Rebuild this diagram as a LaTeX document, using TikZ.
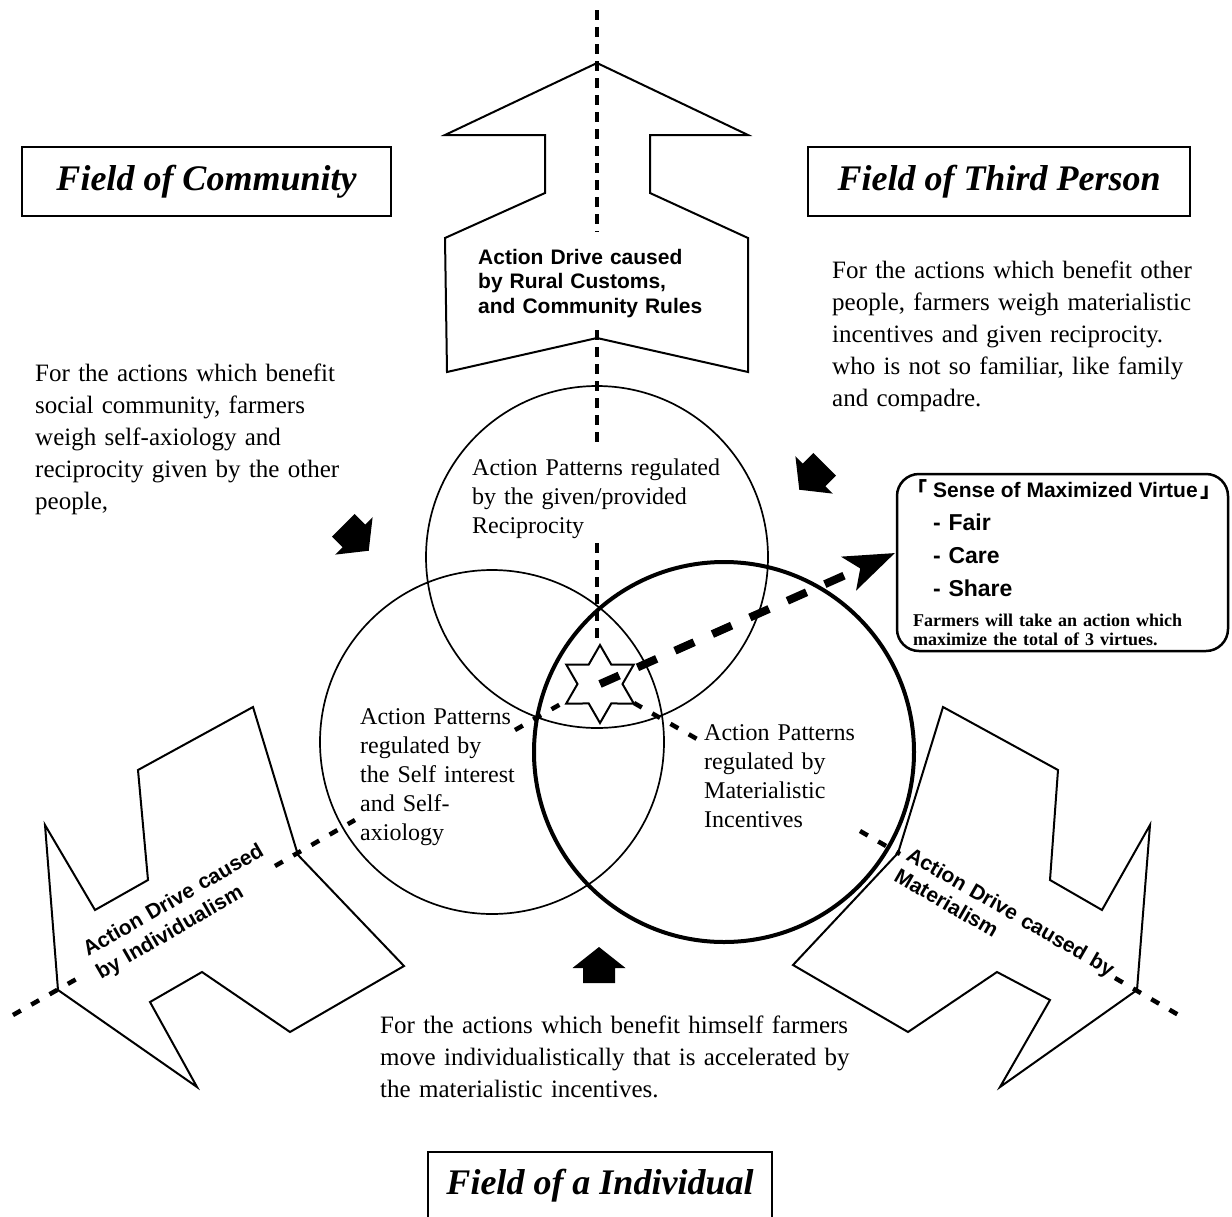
\documentclass[tikz,border=0pt]{standalone}
\usepackage{fontspec}
\setmainfont{Liberation Serif}
\setsansfont{Liberation Sans}
\newfontfamily\cjkfont{Noto Sans CJK JP}
\usetikzlibrary{arrows.meta}

\begin{document}
\begin{tikzpicture}[x=1pt,y=-1pt,
  outline/.style={draw, line width=2pt, line join=miter},
  ringthin/.style={line width=1.7pt},
  ringthick/.style={line width=4pt},
  axisdash/.style={line width=4.5pt, dash pattern=on 9pt off 12pt},
  vdash/.style={line width=4.5pt, dash pattern=on 10pt off 7pt},
  bigdash/.style={line width=8pt, dash pattern=on 21pt off 20pt},
  paratext/.style={anchor=base west, inner sep=0pt, text width=#1, align=left,
    font=\fontsize{25}{32}\selectfont},
  ringtext/.style={anchor=base west, inner sep=0pt, text width=#1, align=left,
    font=\fontsize{24}{29}\selectfont},
  sanstext/.style={anchor=base west, inner sep=0pt, text width=#1, align=left,
    font=\sffamily\bfseries\fontsize{21}{24.5}\selectfont},
  fieldbox/.style={draw, line width=1.6pt, inner sep=0pt,
    font=\bfseries\itshape\fontsize{36}{40}\selectfont},
  blockarrow/.pic={\fill (0,-18) -- (26.5,3) -- (16,3) -- (16,18) -- (-16,18)
    -- (-16,3) -- (-26.5,3) -- cycle;}
]
\useasboundingbox (0,0) rectangle (1232,1216);

% centres of the three rings and of the star
\coordinate (cTop) at (597,557);
\coordinate (cLeft) at (492,742);
\coordinate (cRight) at (724,752);
\coordinate (starC) at (600,684);

% the three overlapping rings
\draw[ringthin] (cTop) circle (171);
\draw[ringthin] (cLeft) circle (172);
\draw[ringthick] (cRight) circle (190);

% big outlined arrows
\draw[outline] (597,63) -- (748,135) -- (650,135) -- (650,193) -- (748,238)
  -- (748,372) -- (597,338) -- (447,372) -- (445,238) -- (545,193)
  -- (545,135) -- (445,135) -- cycle;
\draw[outline] (253,707) -- (138,770) -- (148,880) -- (95,910) -- (45,825)
  -- (58,990) -- (197,1087) -- (150,1002) -- (202,972) -- (290,1032)
  -- (404,966) -- (298,855) -- cycle;
\draw[outline] (943,707) -- (1058,770) -- (1050,880) -- (1102,910) -- (1150,825)
  -- (1137,990) -- (1000,1087) -- (1050,1000) -- (997,972) -- (908,1032)
  -- (793,965) -- (898,853) -- cycle;

% vertical axis (broken where text sits)
\coordinate (v0) at (597,10);   \coordinate (v1) at (597,232);
\coordinate (v2) at (597,330);  \coordinate (v3) at (597,447);
\coordinate (v4) at (597,543);  \coordinate (v5) at (597,640);
\draw[vdash] (v0) -- (v1);
\draw[vdash] (v2) -- (v3);
\draw[vdash] (v4) -- (v5);

% lower-left axis
\coordinate (l0) at (13,1015);  \coordinate (l1) at (80,977);
\coordinate (l2) at (275,866);  \coordinate (l3) at (355,820);
\coordinate (l4) at (515,730);  \coordinate (l5) at (566,701);
\draw[axisdash] (l0) -- (l1);
\draw[axisdash] (l2) -- (l3);
\draw[axisdash] (l4) -- (l5);

% lower-right axis
\coordinate (r0) at (634,703);  \coordinate (r1) at (697,739);
\coordinate (r2) at (860,831);  \coordinate (r3) at (900,854);
\coordinate (r4) at (1115,978); \coordinate (r5) at (1182,1017);
\draw[axisdash] (r0) -- (r1);
\draw[axisdash] (r2) -- (r3);
\draw[axisdash] (r4) -- (r5);

% six-pointed star at the common centre
\begin{scope}[shift={(starC)}]
  \draw[line width=2pt, fill=white, line join=miter]
    (90:39) -- (60:22.5) -- (30:39) -- (0:22.5) -- (-30:39) -- (-60:22.5)
    -- (-90:39) -- (-120:22.5) -- (-150:39) -- (180:22.5) -- (150:39)
    -- (120:22.5) -- cycle;
\end{scope}

% virtue box and the arrow pointing to it
\node[draw, rounded corners=22pt, line width=2.5pt, minimum width=331pt,
  minimum height=177pt, inner sep=0pt] (virtue) at (1062.5,562.5) {};
\coordinate (arrowTip) at (895,553);
\draw[bigdash, -{Stealth[length=50pt,width=36pt,inset=12pt]}] (starC) -- (arrowTip);

% small solid arrows
\pic[rotate=-135] at (356,538) {blockarrow};
\pic[rotate=135] at (812,477) {blockarrow};
\pic at (599,965) {blockarrow};

% field labels
\node[fieldbox, minimum width=369pt, minimum height=69pt] (fComm) at (206.5,181.5) {Field of Community};
\node[fieldbox, minimum width=382pt, minimum height=69pt] (fThird) at (999,181.5) {Field of Third Person};
\node[inner sep=0pt, font=\bfseries\itshape\fontsize{36}{40}\selectfont] (fInd) at (600,1186) {Field of a Individual};
\draw[line width=1.6pt] (428,1217) |- (772,1152) -- (772,1217);

% explanatory paragraphs
\node[paratext=420pt] (pComm) at (35,381) {For the actions which benefit\\
  social community, farmers\\ weigh self-axiology and\\
  reciprocity given by the other\\ people,};
\node[paratext=420pt] (pThird) at (832,278) {For the actions which benefit other\\
  people, farmers weigh materialistic\\ incentives and given reciprocity.\\
  who is not so familiar, like family\\ and compadre.};
\node[paratext=520pt] (pInd) at (380,1033) {For the actions which benefit himself farmers\\
  move individualistically that is accelerated by\\ the materialistic incentives.};

% ring labels
\node[ringtext=300pt] (tTop) at (472,475) {Action Patterns regulated\\
  by the given/provided\\ Reciprocity};
\node[ringtext=200pt] (tLeft) at (360,724) {Action Patterns\\ regulated by\\
  the Self interest\\ and Self-\\ axiology};
\node[ringtext=200pt] (tRight) at (704,740) {Action Patterns\\ regulated by\\
  Materialistic\\ Incentives};

% labels of the driving arrows
\node[sanstext=260pt] (dTop) at (478,264) {Action Drive caused\\ by Rural Customs,\\
  and Community Rules};
\node[sanstext=260pt, rotate=30] (dLeft) at (88,957) {Action Drive caused\\[1.5pt] by Individualism};
\node[sanstext=260pt, rotate=-30] (dRight) at (905,859) {Action Drive caused by\\ Materialism};

% contents of the virtue box
\node[anchor=base west, inner sep=0pt, font=\sffamily\bfseries\fontsize{21}{24}\selectfont]
  (vTitle) at (906,497) {{\cjkfont 「}\hspace{6pt}Sense of Maximized Virtue\hspace{3pt}{\cjkfont 」}};
\node[anchor=base west, inner sep=0pt, text width=200pt, align=left,
  font=\sffamily\bfseries\fontsize{23}{33}\selectfont] (vList) at (933,530)
  {- Fair\\ - Care\\ - Share};
\node[anchor=base west, inner sep=0pt, text width=300pt, align=left,
  font=\bfseries\fontsize{18}{19}\selectfont] (vNote) at (913,626)
  {Farmers will take an action which\\ maximize the total of 3 virtues.};
\end{tikzpicture}
\end{document}
